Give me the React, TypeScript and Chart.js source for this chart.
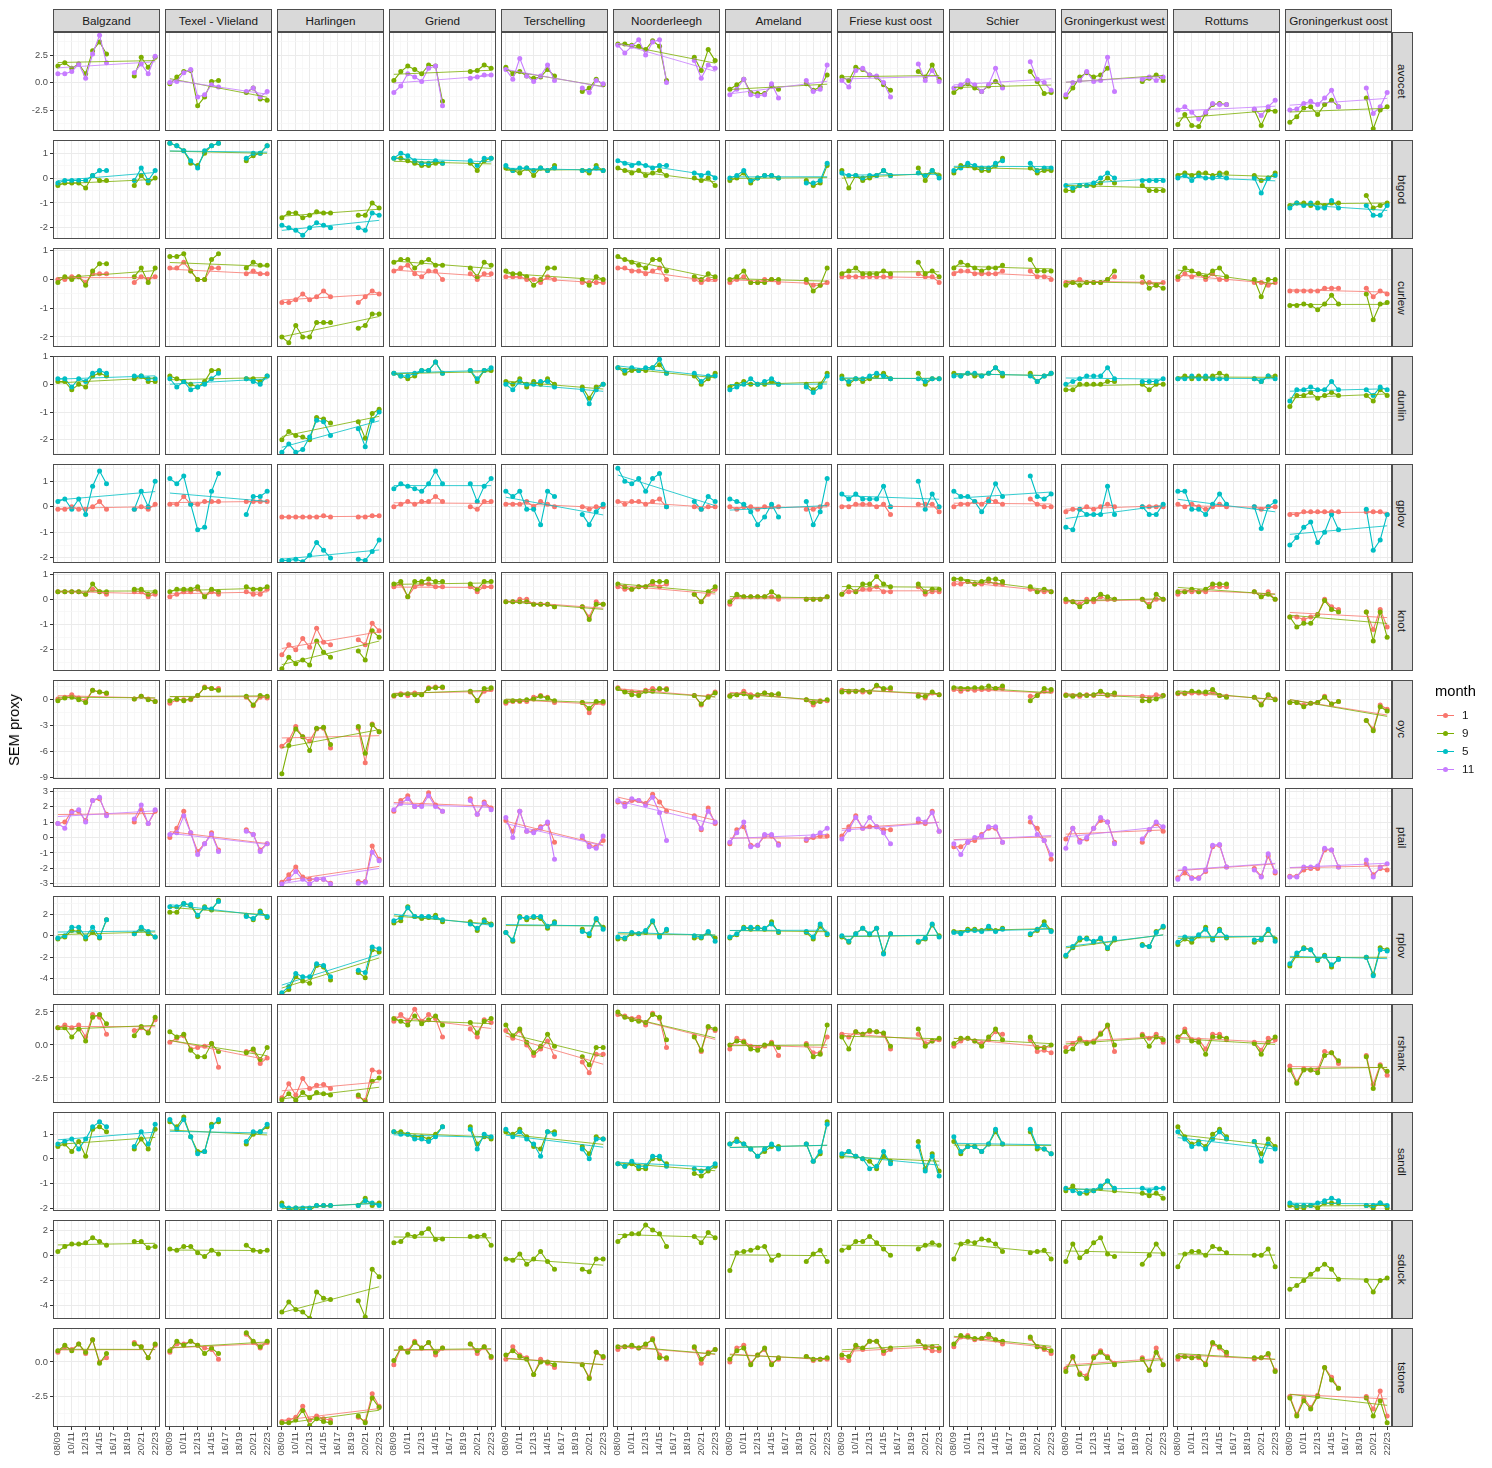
import React, { useEffect, useRef } from 'react';
import { Chart, registerables } from 'chart.js';
Chart.register(...registerables);

const _ = null;

const AREAS = ['Balgzand', 'Texel - Vlieland', 'Harlingen', 'Griend', 'Terschelling', 'Noorderleegh', 'Ameland', 'Friese kust oost', 'Schier', 'Groningerkust west', 'Rottums', 'Groningerkust oost'];
const SPECIES = ['avocet', 'btgod', 'curlew', 'dunlin', 'gplov', 'knot', 'oyc', 'ptail', 'rplov', 'rshank', 'sandl', 'sduck', 'tstone'];
const SEASONS = ['08/09', '09/10', '10/11', '11/12', '12/13', '13/14', '14/15', '15/16', '16/17', '17/18', '18/19', '19/20', '20/21', '21/22', '22/23'];
const MONTHS = ['1', '9', '5', '11'];
const MONTH_COLORS = ['#F8766D', '#7CAE00', '#00BFC4', '#C77CFF'];

const Y_MIN = [-4.4, -2.45, -2.35, -2.55, -2.2, -2.84, -9.2, -3.2, -5.5, -4.4, -2.12, -5.05, -4.7];
const Y_MAX = [4.6, 1.53, 1.1, 1.02, 1.67, 1.08, 2.3, 3.2, 3.7, 3.1, 1.9, 2.8, 2.45];
const Y_STEP = [2.5, 1, 1, 1, 1, 1, 3, 1, 2, 2.5, 1, 2, 2.5];

// ---- data: one array per area (15 seasons, null = missing) ----
const avocet9 = [
  [1.5, 1.8, 1.3, 1.7, 0.8, 2.9, 3.7, 2.6, _, _, _, 0.6, 2.3, 1.4, 2.3],
  [-0.1, 0.5, 1.0, 1.1, -2.1, -1.3, 0.1, 0.2, _, _, _, -0.9, -0.5, -1.5, -1.6],
  [],
  [0.2, 1.0, 1.5, 1.2, 0.8, 1.6, 1.5, -1.7, _, _, _, 1.0, 1.1, 1.6, 1.3],
  [1.4, 0.8, 1.0, 0.6, 0.4, 0.5, 1.2, 0.6, _, _, _, -0.8, -0.5, 0.3, -0.2],
  [3.5, 3.5, 3.4, 3.3, 3.0, 3.8, 3.3, 0.2, _, _, _, 2.3, 1.1, 3.0, 2.0],
  [-0.6, -0.2, 0.3, -0.9, -1.0, -1.0, -0.3, -0.6, _, _, _, -0.1, -0.7, -0.4, 0.7],
  [0.5, 0.2, 1.4, 1.2, 0.7, 0.5, -0.2, -0.7, _, _, _, 1.0, 0.5, 1.6, 0.3],
  [-0.9, -0.4, -0.1, -0.5, -0.8, -0.3, 0.1, -0.4, _, _, _, 1.0, 0.1, -1.0, -0.9],
  [-1.3, -0.5, 0.5, 0.9, 0.5, 0.7, 1.3, _, _, _, _, 0.1, 0.4, 0.7, 0.2],
  [-3.8, -2.9, -3.9, -4.0, -2.8, -2.0, -1.9, -2.0, _, _, _, -2.5, -3.9, -2.5, -2.6],
  [-3.6, -3.1, -2.3, -2.2, -2.9, -2.0, -1.6, -2.2, _, _, _, -1.4, -4.2, -2.5, -2.2],
];
const avocet11 = [
  [0.8, 0.8, 1.0, 1.7, 0.4, 2.6, 4.3, 1.8, _, _, _, 0.9, 1.7, 0.8, 2.4],
  [0.0, 0.1, 0.9, 1.2, -1.3, -1.1, -0.2, -0.4, _, _, _, -0.8, -0.5, -1.3, -0.8],
  [],
  [-0.9, -0.3, 0.8, 0.5, 0.1, 1.3, 1.5, -2.1, _, _, _, 0.4, 0.5, 0.7, 0.7],
  [1.2, 0.3, 2.2, 0.6, 0.1, 0.6, 1.6, 0.2, _, _, _, -0.5, -0.9, 0.2, -0.1],
  [3.4, 2.7, 3.3, 3.9, 2.5, 3.7, 3.9, 0.0, _, _, _, 2.0, 0.4, 1.6, 1.3],
  [-1.1, -0.6, 0.3, -1.1, -1.2, -1.1, -0.1, -1.4, _, _, _, 0.2, -0.8, -0.6, 1.6],
  [0.2, -0.4, 1.1, 1.3, 0.7, 0.6, 0.0, -1.3, _, _, _, 1.7, 0.2, 1.1, 0.1],
  [-0.5, -0.2, 0.2, -0.2, -0.8, -0.2, 1.3, -0.5, _, _, _, 1.9, 0.3, 0.0, -0.7],
  [-1.1, 0.0, 0.2, 1.0, 0.1, 0.2, 2.3, -0.8, _, _, _, 0.3, 0.5, 0.2, 0.5],
  [-2.5, -2.2, -2.7, -3.3, -2.7, -1.9, -2.0, -2.0, _, _, _, -2.4, -3.0, -2.2, -1.6],
  [-2.5, -2.4, -1.9, -1.7, -2.0, -1.4, -0.7, -2.2, _, _, _, -0.5, -2.8, -2.2, -0.9],
];
const btgod9 = [
  [-0.3, -0.2, -0.2, -0.2, -0.4, 0.1, -0.1, -0.1, _, _, _, -0.3, 0.1, -0.2, 0.0],
  [1.4, 1.3, 1.1, 0.6, 0.5, 1.0, 1.3, 1.4, _, _, _, 0.7, 0.9, 1.0, 1.3],
  [-1.6, -1.4, -1.4, -1.6, -1.5, -1.35, -1.4, -1.4, _, _, _, -1.5, -1.5, -1.0, -1.2],
  [0.8, 0.8, 0.7, 0.6, 0.5, 0.5, 0.6, 0.6, _, _, _, 0.6, 0.3, 0.7, 0.8],
  [0.4, 0.3, 0.2, 0.4, 0.1, 0.4, 0.3, 0.5, _, _, _, 0.3, 0.2, 0.5, 0.3],
  [0.4, 0.3, 0.2, 0.3, 0.1, 0.2, 0.3, 0.1, _, _, _, 0.0, -0.1, 0.0, -0.3],
  [-0.1, 0.0, 0.2, -0.2, 0.0, 0.1, 0.1, 0.0, _, _, _, -0.1, -0.3, -0.2, 0.5],
  [0.3, -0.4, 0.1, -0.1, 0.0, 0.1, 0.3, 0.1, _, _, _, 0.4, -0.1, 0.3, 0.1],
  [0.2, 0.5, 0.5, 0.4, 0.3, 0.3, 0.5, 0.8, _, _, _, 0.4, 0.2, 0.3, 0.3],
  [-0.5, -0.5, -0.3, -0.3, -0.3, -0.2, 0.0, -0.2, _, _, _, -0.3, -0.5, -0.5, -0.5],
  [0.1, 0.2, 0.1, 0.2, 0.2, 0.1, 0.2, 0.2, _, _, _, 0.1, -0.1, 0.0, 0.2],
  [-1.1, -1.0, -1.0, -1.1, -1.0, -1.1, -1.0, -1.0, _, _, _, -0.7, -1.2, -1.1, -1.0],
];
const btgod5 = [
  [-0.2, -0.1, -0.1, -0.1, -0.1, 0.1, 0.3, 0.3, _, _, _, -0.1, 0.4, -0.1, 0.3],
  [1.4, 1.3, 1.1, 0.7, 0.4, 1.1, 1.3, 1.4, _, _, _, 0.8, 1.0, 1.0, 1.3],
  [-1.9, -2.0, -2.1, -2.3, -2.0, -1.8, -1.9, -2.0, _, _, _, -2.0, -2.1, -1.4, -1.5],
  [0.8, 1.0, 0.9, 0.7, 0.6, 0.6, 0.7, 0.6, _, _, _, 0.7, 0.5, 0.8, 0.8],
  [0.5, 0.3, 0.4, 0.4, 0.3, 0.4, 0.3, 0.4, _, _, _, 0.3, 0.3, 0.4, 0.3],
  [0.7, 0.6, 0.5, 0.6, 0.5, 0.4, 0.5, 0.5, _, _, _, 0.2, 0.1, 0.2, 0.0],
  [0.0, 0.1, 0.3, -0.1, 0.0, 0.1, 0.1, 0.0, _, _, _, -0.2, -0.2, -0.1, 0.6],
  [0.2, 0.1, 0.1, 0.0, 0.1, 0.1, 0.3, 0.1, _, _, _, 0.2, 0.1, 0.3, 0.0],
  [0.3, 0.4, 0.6, 0.5, 0.4, 0.4, 0.6, 0.7, _, _, _, 0.6, 0.3, 0.4, 0.4],
  [-0.3, -0.4, -0.3, -0.3, -0.2, 0.0, 0.2, 0.0, _, _, _, -0.1, -0.1, -0.1, -0.1],
  [0.0, 0.1, -0.1, 0.1, 0.0, 0.0, 0.1, 0.0, _, _, _, 0.0, -0.6, 0.0, 0.1],
  [-1.2, -1.0, -1.1, -1.0, -1.2, -1.2, -0.9, -1.2, _, _, _, -1.1, -1.5, -1.5, -1.1],
];
const curlew1 = [
  [0.0, 0.0, 0.1, 0.1, -0.1, 0.2, 0.2, 0.2, _, _, _, -0.1, 0.1, 0.0, 0.1],
  [0.4, 0.4, 0.6, 0.3, 0.0, 0.0, 0.4, 0.4, _, _, _, 0.2, 0.3, 0.2, 0.2],
  [-0.8, -0.8, -0.7, -0.5, -0.7, -0.6, -0.4, -0.6, _, _, _, -0.8, -0.6, -0.4, -0.5],
  [0.3, 0.4, 0.5, 0.2, 0.1, 0.3, 0.3, 0.0, _, _, _, 0.2, 0.0, 0.2, 0.2],
  [0.1, 0.1, 0.1, 0.0, 0.0, -0.1, 0.1, 0.0, _, _, _, -0.1, -0.1, -0.1, -0.1],
  [0.4, 0.4, 0.3, 0.3, 0.2, 0.3, 0.4, 0.0, _, _, _, 0.0, -0.1, 0.0, 0.0],
  [-0.1, 0.0, 0.1, -0.1, -0.1, 0.0, 0.0, -0.1, _, _, _, -0.1, -0.2, -0.2, -0.1],
  [0.1, 0.1, 0.1, 0.1, 0.1, 0.1, 0.1, 0.1, _, _, _, 0.2, 0.1, 0.1, -0.1],
  [0.2, 0.3, 0.3, 0.2, 0.2, 0.2, 0.2, 0.3, _, _, _, 0.3, 0.1, 0.1, 0.0],
  [-0.1, -0.1, 0.0, -0.1, -0.1, -0.1, 0.0, 0.1, _, _, _, -0.1, -0.1, -0.2, -0.1],
  [0.0, 0.2, 0.1, 0.2, 0.0, 0.2, 0.0, 0.0, _, _, _, -0.1, -0.1, -0.2, -0.1],
  [-0.4, -0.4, -0.4, -0.4, -0.4, -0.3, -0.3, -0.3, _, _, _, -0.3, -0.6, -0.4, -0.5],
];
const curlew9 = [
  [-0.1, 0.1, 0.0, 0.1, -0.2, 0.3, 0.55, 0.55, _, _, _, 0.1, 0.4, -0.1, 0.4],
  [0.8, 0.8, 0.9, 0.3, 0.0, 0.0, 0.7, 0.9, _, _, _, 0.4, 0.6, 0.5, 0.5],
  [-2.0, -2.2, -1.6, -2.0, -2.0, -1.5, -1.5, -1.5, _, _, _, -1.7, -1.6, -1.2, -1.2],
  [0.6, 0.7, 0.7, 0.4, 0.6, 0.7, 0.5, 0.5, _, _, _, 0.4, 0.1, 0.6, 0.5],
  [0.3, 0.2, 0.2, 0.1, -0.2, 0.0, 0.4, 0.4, _, _, _, 0.0, -0.2, 0.1, 0.0],
  [0.8, 0.7, 0.6, 0.5, 0.4, 0.7, 0.7, 0.3, _, _, _, 0.1, 0.0, 0.2, 0.1],
  [0.0, 0.1, 0.3, -0.1, -0.1, -0.1, 0.0, 0.0, _, _, _, 0.0, -0.4, -0.2, 0.4],
  [0.2, 0.3, 0.4, 0.2, 0.2, 0.2, 0.3, 0.2, _, _, _, 0.6, 0.2, 0.3, 0.1],
  [0.4, 0.6, 0.5, 0.4, 0.3, 0.4, 0.4, 0.5, _, _, _, 0.7, 0.3, 0.3, 0.3],
  [-0.2, -0.1, -0.2, -0.1, -0.1, -0.1, 0.0, 0.3, _, _, _, 0.1, -0.3, -0.2, -0.3],
  [0.1, 0.4, 0.3, 0.2, 0.1, 0.3, 0.4, 0.1, _, _, _, 0.0, -0.6, 0.0, 0.0],
  [-0.9, -0.9, -0.85, -0.9, -1.05, -0.85, -0.55, -0.85, _, _, _, -0.5, -1.4, -0.85, -0.8],
];
const dunlin9 = [
  [0.1, 0.1, -0.2, 0.0, -0.1, 0.3, 0.4, 0.3, _, _, _, 0.2, 0.3, 0.1, 0.1],
  [0.3, 0.2, 0.1, 0.0, -0.1, 0.1, 0.5, 0.5, _, _, _, 0.2, 0.2, 0.1, 0.3],
  [-2.0, -1.7, -1.85, -1.9, -2.0, -1.2, -1.25, -1.4, _, _, _, -1.35, -1.95, -1.05, -0.9],
  [0.4, 0.3, 0.2, 0.3, 0.5, 0.5, 0.8, 0.4, _, _, _, 0.5, 0.1, 0.5, 0.5],
  [0.1, 0.0, 0.2, -0.1, 0.1, 0.0, 0.2, 0.0, _, _, _, -0.1, -0.5, -0.1, 0.0],
  [0.6, 0.4, 0.5, 0.5, 0.5, 0.6, 0.7, 0.4, _, _, _, 0.3, 0.0, 0.2, 0.4],
  [-0.1, 0.0, 0.1, 0.0, 0.0, 0.0, 0.1, 0.0, _, _, _, 0.0, -0.2, 0.0, 0.4],
  [0.3, 0.0, 0.2, 0.1, 0.2, 0.3, 0.4, 0.2, _, _, _, 0.4, 0.0, 0.2, 0.2],
  [0.4, 0.3, 0.4, 0.3, 0.3, 0.4, 0.6, 0.3, _, _, _, 0.4, 0.1, 0.3, 0.4],
  [-0.2, -0.2, 0.0, 0.0, 0.0, 0.0, 0.1, 0.1, _, _, _, 0.0, -0.2, 0.0, 0.0],
  [0.2, 0.3, 0.2, 0.3, 0.2, 0.3, 0.4, 0.3, _, _, _, 0.2, 0.1, 0.3, 0.3],
  [-0.8, -0.4, -0.4, -0.3, -0.5, -0.4, -0.3, -0.4, _, _, _, -0.4, -0.6, -0.2, -0.4],
];
const dunlin5 = [
  [0.2, 0.2, -0.1, 0.2, 0.1, 0.4, 0.5, 0.4, _, _, _, 0.3, 0.3, 0.2, 0.2],
  [0.2, -0.1, 0.1, -0.2, -0.1, 0.0, 0.2, 0.4, _, _, _, 0.2, 0.1, 0.0, 0.3],
  [-2.45, -2.15, -2.45, -2.35, -1.9, -1.3, -1.35, -1.85, _, _, _, -1.6, -2.25, -1.3, -1.0],
  [0.4, 0.3, 0.3, 0.4, 0.5, 0.5, 0.8, 0.4, _, _, _, 0.5, 0.2, 0.5, 0.6],
  [0.0, -0.2, 0.1, 0.0, 0.0, 0.1, 0.1, -0.1, _, _, _, -0.2, -0.7, -0.2, 0.0],
  [0.6, 0.5, 0.6, 0.5, 0.6, 0.6, 0.9, 0.4, _, _, _, 0.4, 0.1, 0.3, 0.3],
  [-0.2, -0.1, 0.0, 0.2, 0.0, 0.1, 0.2, 0.0, _, _, _, -0.1, -0.3, -0.1, 0.3],
  [0.2, 0.1, 0.2, 0.2, 0.3, 0.4, 0.3, 0.2, _, _, _, 0.2, 0.1, 0.2, 0.2],
  [0.3, 0.3, 0.4, 0.4, 0.3, 0.4, 0.6, 0.4, _, _, _, 0.3, 0.1, 0.3, 0.4],
  [0.0, 0.1, 0.2, 0.3, 0.3, 0.3, 0.6, 0.2, _, _, _, 0.1, 0.1, 0.1, 0.2],
  [0.2, 0.2, 0.3, 0.2, 0.3, 0.2, 0.2, 0.2, _, _, _, 0.2, 0.1, 0.3, 0.2],
  [-0.6, -0.2, -0.2, -0.1, -0.2, -0.2, 0.1, -0.2, _, _, _, -0.2, -0.4, -0.1, -0.2],
];
const gplov1 = [
  [-0.1, -0.1, 0.0, -0.1, -0.1, 0.0, 0.2, -0.1, _, _, _, -0.1, 0.0, -0.1, 0.1],
  [0.1, 0.1, 0.4, 0.1, 0.1, 0.2, 0.2, 0.2, _, _, _, 0.2, 0.2, 0.2, 0.2],
  [-0.4, -0.4, -0.4, -0.4, -0.4, -0.4, -0.35, -0.4, _, _, _, -0.4, -0.4, -0.35, -0.35],
  [0.0, 0.1, 0.2, 0.1, 0.2, 0.2, 0.4, 0.2, _, _, _, 0.0, -0.1, 0.2, 0.2],
  [0.1, 0.1, 0.1, 0.2, 0.0, 0.2, 0.1, 0.0, _, _, _, 0.0, -0.1, 0.0, 0.0],
  [0.2, 0.1, 0.2, 0.2, 0.1, 0.2, 0.3, 0.0, _, _, _, 0.0, -0.1, 0.0, 0.0],
  [0.0, -0.1, 0.0, 0.0, -0.1, 0.0, 0.0, 0.0, _, _, _, -0.1, -0.1, 0.0, 0.1],
  [0.0, 0.0, 0.1, 0.1, 0.1, 0.0, 0.1, -0.3, _, _, _, 0.1, 0.1, 0.1, -0.2],
  [0.0, 0.1, 0.1, 0.2, 0.1, 0.3, 0.2, 0.1, _, _, _, 0.3, 0.1, 0.0, 0.0],
  [-0.2, -0.1, -0.1, 0.0, -0.1, 0.0, 0.1, 0.0, _, _, _, 0.0, 0.0, 0.0, 0.0],
  [0.1, 0.0, 0.1, 0.0, -0.1, 0.0, 0.1, 0.0, _, _, _, 0.0, -0.1, 0.0, 0.0],
  [-0.3, -0.3, -0.2, -0.2, -0.2, -0.2, -0.2, -0.2, _, _, _, -0.2, -0.2, -0.2, -0.3],
];
const gplov5 = [
  [0.2, 0.3, -0.1, 0.3, -0.3, 0.8, 1.4, 0.9, _, _, _, -0.1, 0.6, 0.0, 1.0],
  [1.1, 0.9, 1.2, 0.1, -0.9, -0.8, 0.6, 1.3, _, _, _, -0.3, 0.4, 0.4, 0.6],
  [-2.1, -2.1, -2.05, -2.15, -1.9, -1.4, -1.7, -2.0, _, _, _, -2.05, -2.1, -1.75, -1.3],
  [0.7, 0.9, 0.8, 0.7, 0.6, 0.9, 1.4, 0.9, _, _, _, 0.9, 0.2, 0.8, 1.1],
  [0.6, 0.4, 0.6, -0.1, -0.1, -0.7, 0.6, 0.4, _, _, _, -0.3, -0.7, -0.2, 0.1],
  [1.5, 1.0, 0.9, 1.1, 0.6, 1.1, 1.3, 0.0, _, _, _, 0.2, -0.1, 0.4, 0.2],
  [0.3, 0.2, 0.1, -0.2, -0.7, -0.4, 0.1, -0.4, _, _, _, 0.2, -0.7, -0.2, 1.1],
  [0.5, 0.3, 0.5, 0.3, 0.3, 0.3, 0.8, 0.0, _, _, _, 1.0, -0.1, 0.5, 0.0],
  [0.6, 0.4, 0.4, 0.2, -0.2, 0.2, 0.9, 0.4, _, _, _, 1.2, 0.4, 0.3, 0.5],
  [-0.8, -0.9, -0.1, -0.3, -0.3, -0.3, 0.8, -0.3, _, _, _, 0.0, -0.3, -0.3, 0.1],
  [0.6, 0.6, -0.1, -0.1, -0.3, 0.1, 0.5, 0.1, _, _, _, 0.0, -0.85, 0.0, 0.2],
  [-1.5, -1.2, -0.8, -0.6, -1.4, -1.0, -0.3, -0.9, _, _, _, -0.1, -1.7, -1.3, -0.3],
];
const knot1 = [
  [0.3, 0.3, 0.3, 0.3, 0.2, 0.4, 0.3, 0.2, _, _, _, 0.3, 0.3, 0.1, 0.2],
  [0.1, 0.2, 0.3, 0.3, 0.4, 0.1, 0.3, 0.2, _, _, _, 0.3, 0.2, 0.2, 0.4],
  [-2.2, -1.8, -2.0, -1.55, -1.9, -1.15, -1.7, -1.8, _, _, _, -1.6, -1.8, -0.95, -1.25],
  [0.5, 0.6, 0.1, 0.5, 0.6, 0.6, 0.5, 0.5, _, _, _, 0.5, 0.3, 0.5, 0.5],
  [-0.1, -0.1, 0.0, 0.0, -0.2, -0.2, -0.2, -0.3, _, _, _, -0.3, -0.7, -0.1, -0.2],
  [0.5, 0.4, 0.4, 0.5, 0.5, 0.6, 0.5, 0.6, _, _, _, 0.2, -0.1, 0.2, 0.4],
  [-0.2, 0.1, 0.1, 0.1, 0.1, 0.1, 0.1, 0.0, _, _, _, 0.0, 0.0, 0.0, 0.1],
  [0.2, 0.3, 0.3, 0.4, 0.4, 0.5, 0.3, 0.3, _, _, _, 0.5, 0.2, 0.3, 0.3],
  [0.6, 0.6, 0.7, 0.6, 0.6, 0.7, 0.6, 0.6, _, _, _, 0.4, 0.3, 0.3, 0.3],
  [-0.1, -0.1, -0.2, 0.0, -0.1, 0.1, 0.0, 0.0, _, _, _, 0.0, -0.2, 0.0, 0.0],
  [0.2, 0.3, 0.3, 0.3, 0.3, 0.5, 0.5, 0.5, _, _, _, 0.3, 0.1, 0.3, 0.0],
  [-0.7, -0.7, -0.8, -0.7, -0.6, 0.0, -0.3, -0.4, _, _, _, -0.5, -1.2, -0.4, -1.1],
];
const knot9 = [
  [0.3, 0.3, 0.3, 0.3, 0.2, 0.6, 0.3, 0.3, _, _, _, 0.4, 0.4, 0.2, 0.3],
  [0.3, 0.4, 0.4, 0.4, 0.5, 0.1, 0.4, 0.3, _, _, _, 0.5, 0.4, 0.4, 0.5],
  [-2.75, -2.3, -2.55, -2.4, -2.6, -1.65, -2.1, -2.3, _, _, _, -2.05, -2.4, -1.25, -1.5],
  [0.6, 0.7, 0.1, 0.7, 0.7, 0.8, 0.7, 0.7, _, _, _, 0.6, 0.4, 0.7, 0.7],
  [-0.1, -0.1, -0.1, -0.1, -0.2, -0.2, -0.2, -0.3, _, _, _, -0.3, -0.8, -0.2, -0.2],
  [0.6, 0.5, 0.4, 0.5, 0.5, 0.7, 0.7, 0.7, _, _, _, 0.2, -0.1, 0.3, 0.5],
  [-0.1, 0.2, 0.1, 0.1, 0.1, 0.1, 0.3, 0.1, _, _, _, 0.0, 0.0, 0.0, 0.1],
  [0.2, 0.5, 0.3, 0.6, 0.6, 0.9, 0.6, 0.5, _, _, _, 0.6, 0.3, 0.4, 0.4],
  [0.8, 0.8, 0.7, 0.6, 0.7, 0.8, 0.8, 0.7, _, _, _, 0.5, 0.3, 0.4, 0.3],
  [0.0, -0.1, -0.3, -0.1, 0.0, 0.2, 0.1, 0.0, _, _, _, 0.0, -0.3, 0.2, 0.0],
  [0.3, 0.3, 0.4, 0.3, 0.4, 0.6, 0.6, 0.6, _, _, _, 0.3, 0.1, 0.2, 0.0],
  [-0.7, -1.1, -0.95, -0.95, -0.6, -0.05, -0.4, -0.5, _, _, _, -0.5, -1.65, -0.5, -1.5],
];
const oyc1 = [
  [0.1, 0.3, 0.6, 0.2, -0.1, 1.1, 0.9, 0.7, _, _, _, 0.1, 0.4, 0.1, -0.2],
  [-0.4, 0.0, 0.0, 0.0, 0.5, 1.5, 1.3, 1.3, _, _, _, 0.3, -0.7, 0.3, 0.2],
  [-5.4, -4.7, -3.1, -4.3, -4.8, -3.4, -3.3, -5.6, _, _, _, -3.3, -7.3, -2.8, -3.7],
  [0.4, 0.7, 0.5, 0.8, 0.6, 1.4, 1.5, 1.4, _, _, _, 0.9, -0.1, 1.0, 1.2],
  [-0.4, -0.2, -0.2, -0.2, 0.3, 0.5, 0.3, -0.3, _, _, _, -0.3, -1.5, -0.3, -0.4],
  [1.4, 1.0, 0.9, 0.8, 1.1, 1.3, 1.2, 1.3, _, _, _, 0.5, -0.6, 0.4, 0.9],
  [0.5, 0.6, 1.0, 0.6, 0.5, 0.8, 0.6, 0.6, _, _, _, 0.0, -0.6, -0.1, -0.1],
  [1.1, 0.9, 1.0, 0.9, 0.9, 1.6, 1.2, 1.2, _, _, _, 0.6, 0.2, 0.8, 0.6],
  [1.2, 1.0, 1.2, 1.1, 1.2, 1.2, 1.3, 1.3, _, _, _, 0.4, 0.5, 1.0, 1.0],
  [0.6, 0.5, 0.4, 0.6, 0.5, 0.9, 0.5, 0.6, _, _, _, 0.4, 0.2, 0.6, 0.5],
  [0.7, 0.7, 0.8, 0.8, 0.7, 0.9, 0.5, 0.4, _, _, _, 0.3, -0.5, 0.5, 0.1],
  [-0.3, -0.3, -0.6, -0.4, -0.3, 0.4, -0.5, -0.2, _, _, _, -2.4, -3.4, -0.6, -1.1],
];
const oyc9 = [
  [-0.1, 0.2, 0.3, 0.0, -0.3, 1.1, 0.9, 0.8, _, _, _, 0.1, 0.4, 0.0, -0.2],
  [-0.1, 0.1, -0.1, 0.1, 0.5, 1.4, 1.3, 1.1, _, _, _, 0.4, -0.6, 0.5, 0.4],
  [-8.6, -5.3, -3.4, -4.3, -5.9, -3.3, -3.2, -5.2, _, _, _, -3.1, -6.2, -2.9, -3.7],
  [0.5, 0.6, 0.7, 0.6, 0.6, 1.3, 1.4, 1.5, _, _, _, 1.0, -0.1, 1.3, 1.4],
  [-0.2, -0.1, -0.1, 0.0, 0.1, 0.4, 0.2, -0.1, _, _, _, -0.3, -1.0, -0.2, -0.2],
  [1.3, 0.9, 0.6, 0.5, 1.0, 1.0, 1.3, 1.2, _, _, _, 0.5, -0.5, 0.3, 0.8],
  [0.4, 0.6, 0.7, 0.3, 0.6, 0.8, 0.6, 0.7, _, _, _, 0.0, -0.3, -0.2, 0.0],
  [0.9, 1.0, 1.0, 1.1, 0.9, 1.7, 1.3, 1.4, _, _, _, 0.4, 0.4, 0.9, 0.6],
  [1.4, 1.3, 1.3, 1.4, 1.4, 1.6, 1.3, 1.6, _, _, _, -0.1, 0.5, 1.3, 1.2],
  [0.5, 0.4, 0.6, 0.5, 0.6, 1.0, 0.6, 0.8, _, _, _, -0.1, -0.1, 0.1, 0.5],
  [0.8, 0.8, 1.0, 0.9, 0.9, 1.2, 0.5, 0.3, _, _, _, 0.3, -0.6, 0.6, 0.0],
  [-0.3, -0.3, -0.8, -0.4, -0.3, 0.3, -0.5, -0.2, _, _, _, -2.4, -3.6, -0.8, -1.3],
];
const ptail1 = [
  [0.9, 1.0, 1.7, 1.7, 1.1, 2.4, 2.5, 1.5, _, _, _, 1.0, 1.8, 0.9, 1.7],
  [0.0, 0.6, 1.7, 0.3, -0.9, -0.4, 0.3, -0.8, _, _, _, 0.5, 0.2, -0.8, -0.4],
  [-2.9, -2.4, -1.9, -2.55, -2.7, -2.7, -2.7, -2.95, _, _, _, -2.85, -2.85, -0.55, -1.4],
  [1.7, 2.4, 2.7, 2.0, 2.1, 2.9, 2.1, 1.7, _, _, _, 2.5, 1.5, 2.3, 1.9],
  [1.1, 0.4, 1.7, 0.4, 0.4, 0.7, 0.9, -0.3, _, _, _, 0.0, -0.5, -0.6, -0.2],
  [2.3, 2.2, 2.4, 2.4, 2.2, 2.8, 2.3, 1.7, _, _, _, 1.4, 0.5, 1.9, 0.9],
  [-0.4, 0.5, 0.7, -0.5, -0.5, 0.1, 0.1, -0.4, _, _, _, -0.2, 0.0, 0.1, 0.1],
  [0.1, 0.7, 1.4, 0.6, 0.7, 0.7, 0.5, 0.5, _, _, _, 1.0, 0.9, 1.7, 0.4],
  [-0.6, -0.6, -0.3, -0.2, 0.2, 0.6, 0.6, -0.3, _, _, _, 1.0, 0.6, -0.2, -1.4],
  [-0.1, 0.6, -0.2, -0.1, 0.6, 1.1, 1.0, -0.3, _, _, _, -0.3, 0.5, 0.9, 0.4],
  [-2.6, -2.3, -2.6, -2.6, -2.2, -0.6, -0.5, -1.9, _, _, _, -2.0, -2.5, -1.2, -2.3],
  [-2.5, -2.5, -2.1, -2.0, -2.0, -0.8, -0.8, -1.9, _, _, _, -1.7, -2.4, -2.0, -2.1],
];
const ptail11 = [
  [0.9, 0.6, 1.6, 1.8, 1.0, 2.4, 2.6, 1.4, _, _, _, 1.2, 2.1, 0.9, 1.8],
  [0.2, 0.3, 1.4, 0.3, -1.1, -0.4, 0.2, -0.9, _, _, _, 0.4, 0.2, -0.9, -0.4],
  [-3.0, -2.7, -2.2, -2.7, -3.0, -2.7, -2.7, -3.0, _, _, _, -2.95, -2.9, -0.95, -1.5],
  [1.8, 2.2, 2.5, 2.0, 2.0, 2.7, 2.0, 1.7, _, _, _, 2.4, 1.5, 2.2, 1.8],
  [1.3, 0.0, 1.7, 0.4, 0.3, 0.6, 1.0, -1.4, _, _, _, 0.1, -0.6, -0.7, 0.1],
  [2.4, 2.0, 2.5, 2.4, 2.1, 2.6, 1.6, -0.2, _, _, _, 1.3, 0.6, 1.7, 1.0],
  [-0.3, 0.3, 1.0, -0.6, -0.5, 0.2, 0.2, -0.5, _, _, _, -0.1, 0.1, 0.3, 0.6],
  [-0.1, 0.5, 1.3, 0.6, 1.3, 0.7, 0.3, -0.4, _, _, _, 1.2, 1.0, 1.6, 0.4],
  [-0.4, -1.1, -0.3, 0.0, 0.1, 0.7, 0.7, -0.3, _, _, _, 1.3, 0.2, -0.2, -1.1],
  [-0.7, 0.6, -0.3, 0.0, 0.6, 1.3, 1.0, -0.4, _, _, _, -0.1, 0.5, 1.0, 0.7],
  [-2.7, -2.0, -2.65, -2.65, -2.1, -0.5, -0.45, -1.9, _, _, _, -2.1, -2.55, -1.05, -2.2],
  [-2.55, -2.55, -1.9, -1.9, -1.85, -0.7, -0.8, -1.9, _, _, _, -1.45, -2.55, -1.9, -1.7],
];
const rplov9 = [
  [-0.3, -0.1, 0.5, 0.4, -0.3, 0.3, -0.2, 1.5, _, _, _, 0.2, 0.6, 0.2, -0.1],
  [2.2, 2.2, 3.0, 2.8, 1.8, 2.7, 2.4, 3.3, _, _, _, 1.9, 1.5, 2.3, 1.7],
  [-5.4, -5.0, -3.8, -4.2, -4.4, -2.75, -2.9, -4.1, _, _, _, -3.4, -3.9, -1.3, -1.5],
  [1.2, 1.4, 2.7, 1.8, 1.6, 1.7, 1.9, 1.3, _, _, _, 1.3, 0.5, 1.5, 1.1],
  [0.3, -0.5, 1.8, 1.5, 1.7, 1.6, 0.7, 1.3, _, _, _, 0.6, 0.0, 1.5, 0.8],
  [-0.3, -0.3, 0.2, 0.2, 0.3, 1.3, 0.0, 0.5, _, _, _, -0.2, -0.2, 0.3, -0.2],
  [-0.2, 0.1, 0.8, 0.6, 0.8, 0.6, 1.3, 0.3, _, _, _, 0.3, -0.3, 0.9, 0.1],
  [-0.1, -0.6, 0.2, 0.7, 0.1, 0.7, -1.6, 0.2, _, _, _, -0.6, -0.3, 1.0, 0.0],
  [0.4, 0.3, 0.6, 0.6, 0.5, 0.7, 0.5, 0.7, _, _, _, 0.1, 0.5, 1.3, 0.5],
  [-1.9, -1.1, -0.4, -0.2, -0.6, -0.3, -1.2, -0.4, _, _, _, -0.8, -1.0, 0.4, 0.8],
  [-0.8, -0.3, -0.6, 0.0, 0.8, -0.4, 0.6, -0.2, _, _, _, -0.6, -0.4, 0.5, -0.3],
  [-2.8, -1.8, -1.1, -1.3, -2.3, -1.8, -2.9, -2.1, _, _, _, -2.0, -3.6, -1.1, -1.3],
];
const rplov5 = [
  [-0.2, 0.0, 0.8, 0.8, -0.1, 0.8, -0.1, 1.5, _, _, _, 0.2, 0.8, 0.4, -0.1],
  [2.7, 2.7, 3.0, 2.9, 1.9, 2.6, 2.5, 3.2, _, _, _, 1.8, 1.6, 2.2, 1.8],
  [-5.3, -4.7, -3.5, -3.8, -3.8, -2.6, -2.75, -3.8, _, _, _, -3.2, -3.4, -1.05, -1.2],
  [1.4, 1.7, 2.6, 1.8, 1.8, 1.8, 1.7, 1.5, _, _, _, 1.1, 0.7, 1.3, 1.0],
  [0.3, -0.4, 1.7, 1.7, 1.8, 1.8, 0.9, 1.2, _, _, _, 0.4, 0.2, 1.6, 0.6],
  [-0.1, -0.2, 0.3, 0.2, 0.5, 1.4, -0.1, 0.6, _, _, _, 0.0, -0.1, 0.4, -0.5],
  [-0.1, 0.2, 0.7, 0.8, 0.7, 0.7, 1.1, 0.4, _, _, _, 0.4, -0.1, 1.1, 0.2],
  [0.0, -0.5, 0.2, 0.7, 0.2, 0.7, -1.7, 0.2, _, _, _, -0.5, -0.2, 1.1, -0.1],
  [0.3, 0.2, 0.5, 0.5, 0.4, 0.9, 0.4, 0.6, _, _, _, 0.2, 0.6, 1.0, 0.4],
  [-1.8, -1.0, -0.2, -0.3, -0.5, -0.2, -1.1, -0.2, _, _, _, -0.9, -1.0, 0.3, 0.9],
  [-0.6, -0.1, -0.3, 0.1, 0.6, -0.3, 0.5, -0.1, _, _, _, -0.4, -0.3, 0.6, -0.5],
  [-2.6, -1.6, -1.2, -1.3, -2.2, -1.9, -2.7, -2.2, _, _, _, -2.0, -3.7, -1.3, -1.4],
];
const rshank1 = [
  [1.3, 1.5, 1.3, 1.5, 0.6, 2.3, 2.1, 0.8, _, _, _, 1.1, 1.3, 1.0, 1.9],
  [0.2, 0.5, 0.7, -0.3, -0.2, -0.1, 0.1, -1.7, _, _, _, -0.5, -0.4, -1.4, -1.0],
  [-4.0, -2.95, -3.8, -2.55, -3.3, -3.05, -3.0, -3.3, _, _, _, -3.9, -4.2, -1.9, -2.05],
  [1.8, 2.3, 1.8, 2.7, 1.8, 2.3, 2.0, 0.6, _, _, _, 1.2, 0.6, 1.9, 1.7],
  [1.1, 0.5, 1.1, 0.0, -0.8, -0.3, 0.3, -0.9, _, _, _, -1.3, -2.1, -0.7, -0.7],
  [2.3, 2.2, 2.0, 2.1, 1.5, 2.4, 2.0, -0.2, _, _, _, 0.7, -0.5, 1.3, 1.1],
  [-0.3, 0.5, 0.3, -0.1, -0.2, -0.1, 0.2, -0.8, _, _, _, 0.1, -0.6, -0.6, 0.6],
  [0.8, 0.6, 1.0, 0.8, 1.0, 1.0, 0.8, -0.3, _, _, _, 0.8, 0.1, 0.3, 0.4],
  [-0.1, 0.3, 0.5, 0.3, 0.1, 0.4, 1.0, 0.8, _, _, _, 0.4, -0.5, -0.4, -0.6],
  [-0.2, 0.1, 0.5, 0.2, 0.3, 0.9, 1.4, -0.5, _, _, _, 0.8, 0.5, 0.8, 0.2],
  [0.3, 1.2, 0.4, 0.4, -0.3, 0.8, 0.8, 0.4, _, _, _, 0.2, -0.4, 0.5, 0.4],
  [-1.6, -2.8, -1.8, -1.9, -1.9, -0.5, -0.6, -1.4, _, _, _, -0.8, -3.0, -1.5, -2.3],
];
const rshank9 = [
  [1.3, 1.3, 0.6, 1.2, 0.3, 2.1, 2.3, 1.6, _, _, _, 0.7, 1.4, 0.9, 2.1],
  [1.0, 0.6, 0.8, -0.4, -0.9, -0.9, 0.1, -0.5, _, _, _, -0.6, -0.3, -1.1, -0.2],
  [-4.15, -3.7, -4.2, -3.6, -4.0, -3.6, -3.7, -3.8, _, _, _, -3.8, -4.35, -2.75, -2.5],
  [2.0, 1.8, 1.5, 2.2, 1.6, 1.9, 2.2, 1.5, _, _, _, 1.7, 0.9, 1.8, 2.0],
  [1.5, 0.7, 1.2, 0.2, -0.6, -0.1, 0.8, -0.1, _, _, _, -0.9, -1.5, -0.2, -0.2],
  [2.5, 2.1, 1.9, 1.8, 1.7, 2.3, 2.1, 0.4, _, _, _, 0.6, -0.4, 1.4, 1.2],
  [0.0, 0.3, 0.2, -0.3, -0.4, 0.0, 0.1, -0.2, _, _, _, 0.0, -0.9, -0.7, 1.5],
  [0.6, -0.3, 1.0, 0.8, 1.1, 1.0, 0.9, -0.1, _, _, _, 1.2, -0.1, 0.3, 0.5],
  [0.1, 0.5, 0.5, 0.3, -0.1, 0.6, 1.2, 0.4, _, _, _, 0.6, -0.2, -0.2, 0.0],
  [-0.5, -0.3, 0.4, 0.1, 0.2, 0.8, 1.5, 0.0, _, _, _, 0.7, -0.1, 0.6, 0.4],
  [0.6, 1.0, 0.3, 0.2, -0.7, 0.6, 0.6, 0.5, _, _, _, 0.1, -0.7, 0.2, 0.6],
  [-1.9, -2.9, -1.9, -1.9, -2.1, -0.8, -0.6, -1.2, _, _, _, -0.9, -3.3, -1.6, -2.0],
];
const sandl9 = [
  [0.5, 0.6, 0.3, 0.7, 0.1, 1.2, 1.3, 1.1, _, _, _, 0.4, 0.8, 0.4, 1.2],
  [1.5, 1.3, 1.7, 0.9, 0.3, 0.3, 1.4, 1.5, _, _, _, 0.6, 1.0, 1.1, 1.3],
  [-1.8, -2.1, -2.0, -2.1, -2.1, -1.9, -1.9, -1.9, _, _, _, -1.9, -1.6, -1.9, -1.8],
  [1.1, 1.1, 1.0, 0.9, 0.9, 0.8, 1.0, 1.3, _, _, _, 1.3, 0.6, 0.9, 0.8],
  [1.1, 1.0, 1.2, 0.9, 0.5, 0.4, 1.1, 1.1, _, _, _, 0.5, 0.2, 0.9, 0.8],
  [-0.2, -0.3, -0.2, -0.4, -0.4, 0.0, 0.0, -0.2, _, _, _, -0.6, -0.7, -0.5, -0.3],
  [0.6, 0.8, 0.6, 0.4, 0.1, 0.3, 0.5, 0.5, _, _, _, 0.6, -0.1, 0.2, 1.5],
  [0.1, 0.3, 0.1, 0.0, -0.1, -0.4, 0.1, -0.1, _, _, _, 0.7, -0.4, 0.2, -0.5],
  [0.7, 0.2, 0.5, 0.5, 0.3, 0.6, 1.1, 0.6, _, _, _, 1.1, 0.4, 0.4, 0.2],
  [-1.3, -1.1, -1.4, -1.4, -1.3, -1.2, -0.9, -1.3, _, _, _, -1.4, -1.5, -1.4, -1.6],
  [1.3, 0.9, 0.6, 0.7, 0.5, 1.0, 1.2, 0.9, _, _, _, 0.7, 0.2, 0.8, 0.5],
  [-1.9, -2.0, -2.0, -1.9, -2.0, -1.8, -1.8, -1.8, _, _, _, -1.9, -2.0, -1.8, -2.0],
];
const sandl5 = [
  [0.6, 0.7, 0.8, 0.4, 0.8, 1.3, 1.5, 1.3, _, _, _, 0.5, 1.1, 0.6, 1.4],
  [1.6, 1.2, 1.6, 0.9, 0.2, 0.3, 1.3, 1.6, _, _, _, 0.7, 1.1, 1.1, 1.4],
  [-1.9, -2.0, -2.0, -2.0, -2.0, -1.9, -1.9, -1.9, _, _, _, -1.9, -1.7, -1.8, -1.9],
  [1.1, 1.0, 1.0, 0.8, 0.8, 0.7, 0.9, 1.3, _, _, _, 1.2, 0.4, 1.0, 0.9],
  [1.2, 0.9, 1.1, 0.8, 0.6, 0.1, 1.1, 1.0, _, _, _, 0.4, 0.0, 0.8, 0.8],
  [-0.2, -0.3, -0.1, -0.3, -0.3, 0.1, 0.1, -0.3, _, _, _, -0.4, -0.5, -0.4, -0.2],
  [0.6, 0.7, 0.6, 0.4, 0.1, 0.4, 0.6, 0.4, _, _, _, 0.6, -0.1, 0.3, 1.4],
  [0.2, 0.3, 0.1, 0.0, -0.4, -0.3, 0.3, -0.2, _, _, _, 0.5, -0.5, 0.1, -0.7],
  [0.9, 0.3, 0.5, 0.5, 0.3, 0.6, 1.2, 0.6, _, _, _, 1.2, 0.5, 0.4, 0.2],
  [-1.2, -1.3, -1.4, -1.3, -1.3, -1.1, -0.9, -1.2, _, _, _, -1.2, -1.3, -1.2, -1.2],
  [1.1, 0.8, 0.5, 0.6, 0.4, 0.8, 1.1, 0.8, _, _, _, 0.7, -0.1, 0.6, 0.4],
  [-1.8, -1.9, -1.9, -1.9, -1.8, -1.7, -1.6, -1.7, _, _, _, -1.9, -1.9, -1.8, -1.9],
];
const sduck9 = [
  [0.3, 0.7, 0.9, 0.9, 1.0, 1.4, 1.1, 0.8, _, _, _, 1.1, 1.1, 0.6, 0.7],
  [0.5, 0.4, 0.7, 0.7, 0.2, -0.1, 0.4, 0.1, _, _, _, 0.8, 0.4, 0.3, 0.4],
  [-4.5, -3.7, -4.3, -4.5, -5.0, -2.9, -3.4, -3.5, _, _, _, -3.6, -4.9, -1.1, -1.7],
  [1.0, 1.1, 1.65, 1.5, 1.75, 2.1, 1.25, 1.3, _, _, _, 1.5, 1.5, 1.6, 0.8],
  [-0.3, -0.4, 0.1, -0.7, -0.3, 0.3, -0.5, -1.1, _, _, _, -1.1, -1.3, -0.3, -0.3],
  [1.1, 1.55, 1.7, 1.7, 2.4, 2.0, 1.7, 0.7, _, _, _, 1.5, 1.0, 1.8, 1.4],
  [-1.2, 0.2, 0.3, 0.4, 0.6, 0.7, -0.4, 0.0, _, _, _, -0.5, 0.1, 0.4, -0.5],
  [0.4, 0.6, 1.1, 1.1, 1.5, 1.0, 0.5, 0.0, _, _, _, 0.5, 0.8, 1.0, 0.8],
  [-0.3, 0.9, 1.1, 1.0, 1.3, 1.2, 0.9, 0.3, _, _, _, 0.2, 0.3, 0.4, -0.3],
  [-0.5, 0.9, -0.2, 0.3, 1.0, 1.4, 0.1, -0.1, _, _, _, -0.7, 0.0, 0.9, 0.1],
  [-0.9, 0.1, 0.3, 0.3, 0.0, 0.7, 0.5, 0.2, _, _, _, 0.0, 0.0, 0.5, -0.9],
  [-2.7, -2.4, -2.0, -1.5, -1.1, -0.7, -1.1, -1.9, _, _, _, -2.0, -2.9, -2.0, -1.8],
];
const tstone1 = [
  [0.7, 1.1, 0.9, 1.3, 0.6, 1.6, 0.0, 0.3, _, _, _, 1.4, 1.1, 0.3, 1.2],
  [0.7, 1.3, 1.3, 1.5, 1.2, 1.0, 0.9, 0.2, _, _, _, 2.0, 1.4, 1.0, 1.4],
  [-4.3, -4.2, -4.0, -3.2, -4.2, -3.9, -4.1, -4.2, _, _, _, -4.0, -4.3, -2.3, -3.2],
  [-0.2, 1.0, 0.8, 1.5, 1.0, 1.4, 0.5, 1.0, _, _, _, 1.3, 0.6, 1.1, 0.3],
  [0.2, 1.1, 0.5, 0.3, -0.9, 0.2, -0.1, -0.4, _, _, _, -0.2, -1.1, 0.7, 0.3],
  [0.9, 1.1, 1.1, 1.0, 1.2, 1.7, 0.5, 0.2, _, _, _, 1.0, -0.1, 0.7, 0.9],
  [0.0, 1.0, 1.2, -0.1, 0.5, 0.9, -0.1, 0.2, _, _, _, 0.4, 0.1, 0.2, 0.2],
  [0.3, 0.1, 1.1, 0.9, 1.5, 1.5, 0.6, 0.9, _, _, _, 1.5, 1.0, 0.8, 0.8],
  [1.1, 1.8, 1.9, 1.6, 1.7, 1.8, 1.6, 1.3, _, _, _, 1.7, 1.1, 0.9, 0.6],
  [-0.5, 0.3, -0.8, -1.0, 0.4, 0.8, 0.4, -0.1, _, _, _, 0.3, -0.6, 1.0, -0.2],
  [0.2, 0.4, 0.3, 0.3, -0.1, 1.3, 1.0, 0.5, _, _, _, 0.2, 0.3, 0.5, -0.6],
  [-2.5, -3.8, -2.6, -3.3, -2.4, -0.4, -1.1, -1.9, _, _, _, -2.5, -3.4, -2.1, -3.9],
];
const tstone9 = [
  [0.8, 1.2, 0.8, 1.3, 0.7, 1.6, -0.1, 0.6, _, _, _, 1.3, 1.1, 0.3, 1.3],
  [0.8, 1.5, 1.2, 1.5, 1.2, 0.6, 1.0, 0.6, _, _, _, 2.1, 1.5, 1.1, 1.5],
  [-4.4, -4.4, -4.2, -3.5, -4.6, -4.1, -4.3, -4.4, _, _, _, -3.9, -4.4, -2.6, -3.3],
  [0.1, 1.0, 0.7, 1.4, 1.0, 1.4, 0.7, 1.0, _, _, _, 1.3, 0.8, 1.1, 0.4],
  [0.5, 0.8, 0.4, 0.2, -0.9, 0.0, 0.0, -0.2, _, _, _, -0.2, -1.2, 0.7, 0.4],
  [1.1, 1.1, 1.2, 1.0, 1.3, 1.6, 0.3, 0.3, _, _, _, 1.1, 0.2, 0.6, 0.9],
  [0.2, 0.8, 1.0, -0.2, 0.5, 1.0, -0.2, 0.3, _, _, _, 0.4, 0.2, 0.2, 0.3],
  [0.5, 0.4, 1.2, 1.0, 1.5, 1.5, 0.8, 1.0, _, _, _, 1.5, 1.1, 1.1, 1.0],
  [1.3, 1.9, 1.8, 1.7, 1.7, 2.0, 1.6, 1.5, _, _, _, 1.8, 1.1, 1.0, 0.8],
  [-0.7, 0.4, -0.9, -1.2, 0.3, 0.7, 0.3, -0.2, _, _, _, 0.2, -0.6, 0.7, -0.2],
  [0.4, 0.4, 0.3, 0.4, -0.2, 1.4, 1.1, 0.7, _, _, _, 0.3, 0.3, 0.6, -0.7],
  [-2.6, -3.9, -2.8, -3.4, -2.5, -0.4, -1.3, -1.9, _, _, _, -2.6, -3.9, -2.8, -4.4],
];

const SPECIES_SERIES: [string, (number | null)[][]][][] = [
  [['9', avocet9], ['11', avocet11]],
  [['9', btgod9], ['5', btgod5]],
  [['1', curlew1], ['9', curlew9]],
  [['9', dunlin9], ['5', dunlin5]],
  [['1', gplov1], ['5', gplov5]],
  [['1', knot1], ['9', knot9]],
  [['1', oyc1], ['9', oyc9]],
  [['1', ptail1], ['11', ptail11]],
  [['9', rplov9], ['5', rplov5]],
  [['1', rshank1], ['9', rshank9]],
  [['9', sandl9], ['5', sandl5]],
  [['9', sduck9]],
  [['1', tstone1], ['9', tstone9]],
];

// ---- layout ----
const PX0 = 53, PY0 = 32, PW = 107, PH = 99, GX = 5, GY = 9;
const YAX_W = 33, XAX_H = 42, STRIP_H = 23, RSTRIP_W = 21, EDGE_PAD = 6;
const FONT = '"Liberation Sans", Arial, Helvetica, sans-serif';
const GRID_MAJOR = '#EBEBEB', GRID_MINOR = '#F5F5F5', FRAME = '#4D4D4D', AXIS_TEXT = '#4D4D4D';

function fitLine(vals: (number | null)[]) {
  const pts: [number, number][] = [];
  vals.forEach((v, i) => { if (v !== null && v !== undefined) pts.push([i, v]); });
  if (pts.length < 2) return [];
  const n = pts.length;
  const mx = pts.reduce((s, p) => s + p[0], 0) / n;
  const my = pts.reduce((s, p) => s + p[1], 0) / n;
  let sxy = 0, sxx = 0;
  pts.forEach(([x, y]) => { sxy += (x - mx) * (y - my); sxx += (x - mx) * (x - mx); });
  const b = sxx ? sxy / sxx : 0, a = my - b * mx;
  const x0 = pts[0][0], x1 = pts[n - 1][0];
  return [{ x: x0, y: a + b * x0 }, { x: x1, y: a + b * x1 }];
}

const framePlugin = {
  id: 'panelFrame',
  afterDraw(chart: any) {
    const { ctx, chartArea: a } = chart;
    ctx.save();
    ctx.strokeStyle = FRAME;
    ctx.lineWidth = 1;
    ctx.strokeRect(Math.round(a.left) + 0.5, Math.round(a.top) + 0.5, Math.round(a.right - a.left) - 1, Math.round(a.bottom - a.top) - 1);
    ctx.restore();
  },
};

function panelGeom(r: number, c: number) {
  const showY = c === 0, showX = r === SPECIES.length - 1;
  const padT = showY ? EDGE_PAD : 0;
  const padB = showY && !showX ? EDGE_PAD : 0;
  const x = PX0 + c * (PW + GX) - (showY ? YAX_W : 0);
  const y = PY0 + r * (PH + GY) - padT;
  const w = PW + (showY ? YAX_W : 0);
  const h = padT + PH + padB + (showX ? XAX_H : 0);
  return { showY, showX, padT, padB, x, y, w, h };
}

function fmtY(v: number, step: number) {
  if (Math.abs(v) < 1e-9) return step % 1 ? '0.0' : '0';
  return step % 1 ? v.toFixed(1) : String(Math.round(v));
}

function makeConfig(r: number, c: number): any {
  const g = panelGeom(r, c);
  const step = Y_STEP[r];
  const ser = SPECIES_SERIES[r]
    .map(([m, arr]) => ({ mi: MONTHS.indexOf(m), vals: arr[c] || [] }))
    .sort((a, b) => b.mi - a.mi);
  const trends = ser.map((s) => ({
    data: fitLine(s.vals),
    borderColor: MONTH_COLORS[s.mi] + 'CC',
    borderWidth: 1,
    pointRadius: 0,
    tension: 0,
  }));
  const lines = ser.map((s) => ({
    data: s.vals.map((v, i) => ({ x: i, y: v === undefined ? null : v })),
    borderColor: MONTH_COLORS[s.mi],
    backgroundColor: MONTH_COLORS[s.mi],
    pointBackgroundColor: MONTH_COLORS[s.mi],
    borderWidth: 1.1,
    pointRadius: 2.5,
    pointBorderWidth: 0,
    spanGaps: false,
    tension: 0,
  }));
  const tickFont = { family: FONT, size: 9.4 };
  return {
    type: 'line',
    data: { datasets: [...trends, ...lines] },
    plugins: [framePlugin],
    options: {
      animation: false,
      responsive: false,
      maintainAspectRatio: false,
      events: [],
      layout: { autoPadding: false, padding: { left: 0, right: 0, top: g.padT, bottom: g.padB } },
      plugins: { legend: { display: false }, tooltip: { enabled: false } },
      scales: {
        x: {
          type: 'linear',
          min: -0.7,
          max: 14.7,
          bounds: 'data',
          afterBuildTicks: (s: any) => { s.ticks = SEASONS.map((_l, i) => ({ value: i })); },
          afterFit: (s: any) => { s.height = g.showX ? XAX_H : 0; s.paddingLeft = 0; s.paddingRight = 0; },
          border: { display: false },
          grid: {
            color: (ctx: any) => (ctx.tick && ctx.tick.value % 2 === 0 ? GRID_MAJOR : GRID_MINOR),
            lineWidth: (ctx: any) => (ctx.tick && ctx.tick.value % 2 === 0 ? 1 : 0.7),
            drawTicks: g.showX,
            tickLength: 3,
            tickColor: (ctx: any) => (ctx.tick && ctx.tick.value % 2 === 0 ? '#333333' : 'rgba(0,0,0,0)'),
            tickWidth: 1,
          },
          ticks: {
            display: g.showX,
            autoSkip: false,
            maxRotation: 90,
            minRotation: 90,
            padding: 2,
            color: AXIS_TEXT,
            font: tickFont,
            callback: (v: number) => (v % 2 === 0 ? SEASONS[v] : ''),
          },
        },
        y: {
          type: 'linear',
          min: Y_MIN[r],
          max: Y_MAX[r],
          bounds: 'data',
          afterBuildTicks: (s: any) => {
            const half = step / 2;
            const k0 = Math.ceil(Y_MIN[r] / half - 1e-9), k1 = Math.floor(Y_MAX[r] / half + 1e-9);
            const t: any[] = [];
            for (let k = k0; k <= k1; k++) t.push({ value: +(k * half).toFixed(6), mj: k % 2 === 0 });
            s.ticks = t;
          },
          afterFit: (s: any) => { s.width = g.showY ? YAX_W : 0; s.paddingTop = 0; s.paddingBottom = 0; },
          border: { display: false },
          grid: {
            color: (ctx: any) => (ctx.tick && ctx.tick.mj ? GRID_MAJOR : GRID_MINOR),
            lineWidth: (ctx: any) => (ctx.tick && ctx.tick.mj ? 1 : 0.7),
            drawTicks: g.showY,
            tickLength: 3,
            tickColor: (ctx: any) => (ctx.tick && ctx.tick.mj ? '#333333' : 'rgba(0,0,0,0)'),
            tickWidth: 1,
          },
          ticks: {
            display: g.showY,
            autoSkip: false,
            padding: 2,
            color: AXIS_TEXT,
            font: tickFont,
            callback: function (this: any, v: number, i: number, ticks: any[]) {
              return ticks[i] && ticks[i].mj ? fmtY(v, step) : '';
            },
          },
        },
      },
    },
  };
}

export default function App() {
  const refs = useRef<(HTMLCanvasElement | null)[]>([]);

  useEffect(() => {
    const charts: Chart[] = [];
    for (let r = 0; r < SPECIES.length; r++) {
      for (let c = 0; c < AREAS.length; c++) {
        const cv = refs.current[r * AREAS.length + c];
        if (cv) charts.push(new Chart(cv, makeConfig(r, c)));
      }
    }
    return () => charts.forEach((ch) => ch.destroy());
  }, []);

  const canvases: any[] = [];
  for (let r = 0; r < SPECIES.length; r++) {
    for (let c = 0; c < AREAS.length; c++) {
      const g = panelGeom(r, c);
      const idx = r * AREAS.length + c;
      canvases.push(
        <canvas
          key={'p' + idx}
          ref={(el) => { refs.current[idx] = el; }}
          width={g.w}
          height={g.h}
          style={{ position: 'absolute', left: g.x, top: g.y, width: g.w, height: g.h, display: 'block' }}
        />
      );
    }
  }

  const stripStyle: any = {
    position: 'absolute',
    boxSizing: 'border-box',
    background: '#D9D9D9',
    border: '1px solid ' + FRAME,
    color: '#1A1A1A',
    fontFamily: FONT,
    fontSize: 11.7,
    display: 'flex',
    alignItems: 'center',
    justifyContent: 'center',
    whiteSpace: 'nowrap',
    overflow: 'hidden',
  };

  return (
    <div style={{ position: 'absolute', left: 0, top: 0, width: 1492, height: 1468, background: '#FFFFFF', fontFamily: FONT }}>
      {AREAS.map((a, c) => (
        <div key={'s' + c} style={{ ...stripStyle, left: PX0 + c * (PW + GX), top: PY0 - STRIP_H, width: PW, height: STRIP_H }}>
          {a}
        </div>
      ))}
      {SPECIES.map((s, r) => (
        <div
          key={'rs' + r}
          style={{ ...stripStyle, left: PX0 + AREAS.length * (PW + GX) - GX, top: PY0 + r * (PH + GY), width: RSTRIP_W, height: PH }}
        >
          <span style={{ writingMode: 'vertical-rl' as any }}>{s}</span>
        </div>
      ))}
      {canvases}
      <div
        style={{
          position: 'absolute',
          left: 14,
          top: PY0 + (SPECIES.length * (PH + GY) - GY) / 2,
          transform: 'translate(-50%, -50%) rotate(-90deg)',
          fontFamily: FONT,
          fontSize: 14.7,
          color: '#000',
          whiteSpace: 'nowrap',
        }}
      >
        SEM proxy
      </div>
      <div style={{ position: 'absolute', left: 1435, top: 683, fontFamily: FONT, fontSize: 14.7, color: '#000' }}>month</div>
      {MONTHS.map((m, i) => {
        const cy = 715 + i * 18;
        return (
          <React.Fragment key={'lg' + m}>
            <div style={{ position: 'absolute', left: 1437, top: cy - 0.5, width: 17, height: 1, background: MONTH_COLORS[i] }} />
            <div style={{ position: 'absolute', left: 1443, top: cy - 2.5, width: 5, height: 5, borderRadius: '50%', background: MONTH_COLORS[i] }} />
            <div style={{ position: 'absolute', left: 1462, top: cy - 7, fontFamily: FONT, fontSize: 11.7, lineHeight: '14px', color: '#1A1A1A' }}>{m}</div>
          </React.Fragment>
        );
      })}
    </div>
  );
}
